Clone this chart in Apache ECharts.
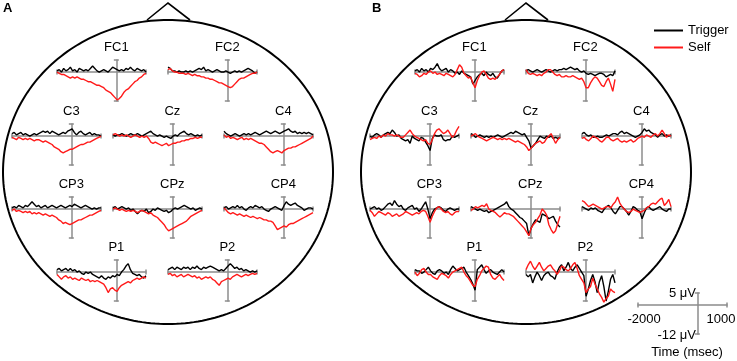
<!DOCTYPE html>
<html><head><meta charset="utf-8">
<script src="https://cdn.jsdelivr.net/npm/echarts@6/dist/echarts.min.js"></script>
<style>html,body{margin:0;padding:0;background:#fff}#c{width:737px;height:361px}</style>
</head><body><div id="c"></div>
<script>
// ---------- data ----------
const TIMES = [-2000,-1925,-1850,-1775,-1700,-1625,-1550,-1475,-1400,-1325,-1250,-1175,-1100,-1025,-950,-875,-800,-725,-650,-575,-500,-425,-350,-275,-200,-125,-50,25,100,175,250,325,400,475,550,625,700,775,850,925,1000];
const ELECTRODES = ['FC1','FC2','C3','Cz','C4','CP3','CPz','CP4','P1','P2'];
const SERIES_NAMES = ['Trigger','Self'];
const SCALE_TIME = [-2000, 1000];
const SCALE_VOLT = [5, -12];

// Panel A
const trigA_FC1 = [0.5,1,0,1.5,0.5,1,2,0.5,1,0, 1.5,1,0.5,1,0.5,1.5,2.5,1.5,0.5,0, 0.5,1,0.5,0,1,2,1.5,1,0.5,1, 0.5,1.5,1,2,1,0.5,1.5,1,0.5,1, 0];
const selfA_FC1 = [0,-0.5,-1,-1,-1.5,-2,-2.5,-2,-2.5,-2, -2.5,-3,-3,-3.5,-4,-4,-4.5,-5,-5.5,-5.5, -6,-6.5,-7.5,-8,-8.5,-9.5,-10.5,-11.5,-11,-10, -8.5,-7.5,-7,-6,-5,-4,-3.5,-2.5,-2,-1, -0.5];
const trigA_FC2 = [2,1.5,0.5,0.5,0,0.5,0,0,0.5,0, 0.5,0,0.5,1,1.5,1,2,0.5,1,0.5, 0,0.5,1,0.5,0,0,0.5,0,-0.5,0, 0.5,0,0.5,0,0.5,1,1.5,1,0.5,-0.5, 0];
const selfA_FC2 = [1,1.5,0.5,0,0,-0.5,-0.5,-0.5,-1,-0.5, -1,-1.5,-1,-1.5,-1.5,-2,-2,-2.5,-2.5,-3, -3,-3.5,-4,-4.5,-4.5,-5,-5.5,-6,-6.5,-6, -5,-4,-3,-2.5,-2.5,-2,-1.5,-1,-0.5,-0.5, 0];
const trigA_C3 = [1,1.5,0.5,1,1.5,0.5,1,0.5,0,0.5, 1,0.5,1,1.5,2,1.5,2,1,2,1.5, 1,0.5,1,1.5,1,2,2.5,3,1.5,0.5, 1.5,2,1,0.5,1,1.5,0.5,1,0.5,0.5, 0];
const selfA_C3 = [-0.5,-1,-1.5,-0.5,-1,-1.5,-1,-1.5,-1,-1.5, -2,-1.5,-1.5,-2,-2.5,-2,-2.5,-3,-3.5,-4.5, -5,-5.5,-6.5,-7,-6.5,-6,-5.5,-5.5,-5,-4.5, -4,-3.5,-3.5,-3,-2.5,-2.5,-2,-1.5,-1,-0.5, 0];
const trigA_Cz = [0.5,0,0.5,0.5,1,0.5,0,0.5,1,0.5, 0.5,1,0.5,0,0.5,1,1.5,2,1,0.5, 0,0.5,0,-0.5,0,-0.5,-1,0,0.5,0, 1,1.5,2,1,0.5,1,0.5,0,0.5,0, 0.5];
const selfA_Cz = [0.5,1,0.5,0,0.5,0,0.5,0,-0.5,0, 0.5,0,-0.5,0,-0.5,0,-1,-2.5,-3,-2.5, -3,-3.5,-4,-3.5,-3,-4,-3.5,-3,-3,-2.5, -2.5,-2,-2,-1.5,-1.5,-1,-1,-0.5,-1,-0.5, -0.5];
const trigA_C4 = [2,1,0.5,0,0.5,1,0.5,0,0.5,1, 0.5,1,0.5,1,1.5,1,0.5,1,1.5,2, 1.5,1,1.5,2,1.5,1,1.5,2,2.5,3, 2,1.5,2,1,1.5,1,1.5,1,1.5,1, 0.5];
const selfA_C4 = [0.5,-0.5,0,-1,-0.5,-1,-1.5,-1,-0.5,-1.5, -1,-1.5,-1,-1.5,-2,-2.5,-3,-3,-3.5,-4.5, -5.5,-6.5,-7,-6.5,-6,-6.5,-7,-6,-5.5,-5, -5,-4.5,-4.5,-4,-3.5,-3,-2.5,-2,-1.5,-1, 0];
const trigA_CP3 = [0.5,1,0.5,1.5,1,0.5,1.5,1,2,3, 2,1,1.5,0.5,1,1.5,0.5,1,1.5,1, 0.5,1,1.5,1,0.5,1,1.5,1,2,1.5, 1,0.5,1,1.5,1,0.5,0,0.5,0,0.5, 0.5];
const selfA_CP3 = [-0.5,0,-1,-0.5,-1,-1.5,-1,-1.5,-1,-2, -1.5,-2,-1.5,-2,-2.5,-2,-2.5,-3,-2.5,-3, -3.5,-4.5,-5,-6,-5.5,-6,-6.5,-6,-5.5,-5, -4.5,-4.5,-4,-3.5,-3,-2.5,-2.5,-2,-1.5,-1, -0.5];
const trigA_CPz = [0.5,1,0,0.5,1,0.5,0,0.5,-0.5,0, -1,-2,-1,-0.5,-1,0,-1.5,-1,0,-0.5, 0.5,0,-0.5,-1,-0.5,-1.5,-1,0,0.5,0, 0.5,1,1.5,1,0.5,0,0.5,-0.5,0,0.5, 0];
const selfA_CPz = [0,0.5,0,-0.5,0,-0.5,-1,-0.5,-1,-0.5, -1,-1.5,-1,-0.5,-1,-1.5,-2,-1.5,-2.5,-3, -3.5,-4.5,-5.5,-6.5,-8,-9,-8.5,-8,-7.5,-7, -6.5,-6,-5.5,-5,-4,-3,-2.5,-2,-1.5,-1, -0.5];
const trigA_CP4 = [0.5,1,0,0.5,1,0.5,1.5,0.5,1,0, -0.5,0.5,1,0.5,1.5,1,0.5,1,0,-0.5, -1,0,0.5,1,0.5,0,-0.5,1.5,3,2, 1.5,2,2.5,1.5,1,0.5,-0.5,0,0.5,0.5, 0];
const selfA_CP4 = [0.5,-0.5,-1.5,-2,-1.5,-2,-2.5,-2,-2.5,-3, -2.5,-3,-3.5,-3,-3.5,-4,-3.5,-4,-4.5,-4.5, -5,-5,-5.5,-7,-8.5,-8,-7.5,-7,-7.5,-6.5, -6,-6,-5.5,-5,-4.5,-4,-3.5,-3,-2.5,-2, -1.5];
const trigA_P1 = [1,1.5,0.5,1,1.5,0.5,1.5,0.5,1,0, 0.5,-0.5,-1,0,-0.5,0,-1,-1.5,-2,-2.5, -1.5,-2.5,-3,-2,-2.5,-1.5,-2,-1,-1.5,0, 1,2.5,3.5,1,-0.5,-1,-1.5,-1,-2,-2.5, -1.5];
const selfA_P1 = [-1,-2,-3,-2,-1.5,-2.5,-2,-3,-2.5,-3, -3.5,-2.5,-3,-3.5,-3,-4,-3.5,-4,-3.5,-4, -4.5,-5,-6.5,-8.5,-7,-6.5,-7.5,-8,-6.5,-5.5, -5,-4.5,-4,-4.5,-3.5,-3,-2.5,-3,-2.5,-2, -2.5];
const trigA_P2 = [1,1.5,2,1,2,1.5,1,2,1.5,2, 1,2,1.5,2.5,1.5,1,2,1.5,2,2.5, 2,1.5,1,0.5,1,0.5,1.5,2.5,3.5,2.5, 1.5,2,1,1.5,0.5,1,0.5,0,0.5,0, 0.5];
const selfA_P2 = [-1,-0.5,-1.5,-1,-2,-1.5,-1,-2,-1.5,-1, -1.5,-2,-1.5,-2.5,-2,-3,-2.5,-2,-2.5,-2, -3,-3.5,-4.5,-5.5,-4,-3.5,-3,-2.5,-3,-2, -1.5,-1,-1.5,-2,-1.5,-1,-1.5,-1,-0.5,-1, -0.5];

// Panel B
const trigB_FC1 = [0.5,1,0,1.5,0.5,1,0,1.5,1,2, 3.5,1.5,0.5,1,1.5,0,1,0.5,-0.5,0, -1,0.5,-0.5,-1,-1.5,-2,-5,-3.5,-2,-1, -0.5,-1.5,0,-1,-1.5,-0.5,-2,-2.5,-1,0.5, 1];
const selfB_FC1 = [-0.5,-1,-2,-1.5,-0.5,-1,0,0.5,-0.5,0, -1,-0.5,-1,-1.5,-0.5,-1,-1.5,-2,-1,1, 3,2,-0.5,-1.5,-2.5,-2,-4.5,-6.5,-3.5,-1.5, 0,0.5,-1,-2.5,-3,-2.5,-3,-2,-1,0.5, 1];
const trigB_FC2 = [0.5,1,0.5,0,0.5,1,0.5,0,0.5,1, 0.5,0,0.5,1,0.5,1,1,1.5,1,1.5, 2,1.5,1,1.5,0.5,0,0.5,-0.5,-1,-0.5, -1,-1.5,-1,-0.5,-0.5,-1,-2,-1.5,-1,-1.5, 0.5];
const selfB_FC2 = [1,-0.5,-1,-0.5,-1,-1.5,-1,-1.5,-0.5,0, 1,1,0,-1,-1.5,-1,-2,-2,-1.5,-2, -2,-1.5,-2,-2.5,-3,-2.5,-4,-6.5,-6.5,-4.5, -3,-2,-2.5,-4,-5.5,-6,-4,-2.5,-5,-8, -3];
const trigB_C3 = [0,-0.5,0.5,1,0.5,-0.5,0.5,1,1.5,1, 2.5,1.5,0,0.5,-1,-1.5,-2,-1.5,-3,0, -1,-1.5,-2,-0.5,-1,-2.5,-4,-6,-1,0.5, 0,0,0.5,-1.5,-2,-1.5,-1.5,0,-0.5,0, 0.5];
const selfB_C3 = [-1.5,-1,-0.5,-1,0,-0.5,0.5,0,1,0.5, 0.5,0,0.5,0,-0.5,-0.5,0.5,1.5,2.5,1, 0,-0.5,-1,-1.5,-2,-1.5,-3,-3.5,-1.5,1, 2.5,3,2,1,1.5,2.5,1,-0.5,0.5,2.5, 4];
const trigB_Cz = [1,0.5,-0.5,0,0.5,0,-0.5,0,-0.5,0, -0.5,0,0.5,0,-0.5,0,0.5,1,1.5,1, 2,1.5,1,0.5,1,-0.5,-2,-5,-4,-3, -1.5,0,-0.5,-1,0,-0.5,0,-1,-0.5,-1, -0.5];
const selfB_Cz = [0,0.5,1,0,-0.5,-1,-1.5,-2,-1.5,-1, -0.5,-1,-1.5,-1,-1.5,-1,-1.5,-1,-1.5,-2, -2.5,-2,-2.5,-3,-3.5,-4.5,-6,-5,-4,-3, -2.5,-2,-3,-2.5,-1,0,1,-1,-3,-1.5, -0.5];
const trigB_C4 = [1,1.5,0.5,0,0.5,-0.5,-0.5,0,-0.5,-0.5, 0,0.5,0,0.5,1,1,0.5,1.5,2,1, 1.5,1,0.5,0,-0.5,0,0.5,1.5,3,2, 2.5,1.5,1,0.5,-0.5,0.5,1,0,0.5,0, 0.5];
const selfB_C4 = [-1,-0.5,-1.5,-2,-1,0,-0.5,-1,-2,-2.5, -1.5,-0.5,-0.5,-1.5,-2,-1.5,-1,-2,-2.5,-2, -2.5,-2,-1.5,-2.5,-2,-1,-0.5,0,-0.5,0.5, 0,-0.5,0.5,1,0,1,2.5,1,-0.5,0.5, 0];
const trigB_CP3 = [0,0.5,1,0,0.5,-0.5,0,1,2,2.5, 1.5,3.5,2,1,1.5,0,-0.5,0.5,1,1.5, 0,0.5,-1,0,1.5,3,0,-4,-1.5,0, 0.5,1,0.5,-0.5,-1,0,0.5,0,-0.5,0, 0];
const selfB_CP3 = [-0.5,-1.5,-3,-2,-1,-1.5,-2,-2.5,-1.5,-2, -3,-2.5,-2,-3,-2.5,-2,-1,-1.5,-2,-2.5, -2,-1.5,-2,-1,-0.5,-1,-3,-5.5,-3,-1, 0.5,1,0,-1,-1.5,-1,-2,-2.5,-1.5,-1, -1];
const trigB_CPz = [1,0.5,0,-0.5,0,-0.5,-1,-0.5,-1.5,-1, -0.5,0,0.5,1,1.5,2,3,1,0,-0.5, -1.5,-2.5,-3.5,-4,-5,-6,-11,-8,-6,-4.5, -5,-5.5,-2,-2.5,-3,-4,-3.5,-3,-5,-6.5, -7.5];
const selfB_CPz = [-0.5,0,1,0.5,1,1.5,1,2.2,0,-0.5, -1,-1.5,-2.5,-3.3,-2.5,-1.5,-2,-2,-2.5,-3, -4,-5,-6,-7,-8,-9.5,-11,-8,-6.5,-5.5, -4,-2.5,0,-1,-2.5,-6.5,-8.5,-10,-9,-6, -3];
const trigB_CP4 = [1,0.5,0,-0.5,0.5,0,0.5,-0.5,-1,-1.5, 0,1,1.5,0.5,-1,-2,-0.5,1,1,0, -1,-2.5,-1,1,0.5,-0.5,-1,-4,-1.5,0.5, 1,0,-0.5,0,0.5,1,0,-0.5,-1,0, 0];
const selfB_CP4 = [3.5,3,2,1,1.5,2,1.5,1,0.5,0, 0.5,1,1,0.5,2,3,5,2.5,1,0, -1,-1.5,-1,0,-0.5,-1,-1.5,-1,-0.5,0.5, 1,2,2.5,2,3,4,4.5,1.5,2.5,4, 1];
const trigB_P1 = [1,0.5,0.5,-0.5,0,1,2,0.5,-0.5,-1, 0.5,1,0.5,-0.5,0,-1,1,2.5,1.5,0.5, 1,1.5,2,0,-1.5,-3,-5,-7.5,1,2, 3,1,-0.5,0.5,1,0,-0.5,-1,0,1, 0];
const selfB_P1 = [0,-1.5,-0.5,1,1.5,0,-1,-1,-2,-2.5, -3,-1.5,-0.5,-1,-1.5,-2.5,-1,0,0.5,1, 1.5,2,0,-1.5,-2.5,-4,-5.5,-6,-3,-1.5, 0.5,1.5,2.5,2,-1,-2.5,-3,-2,-1,-2.5, -3.5];
const trigB_P2 = [-1,-2,-1,-4.5,-2,0,-1.5,-3.5,-1.5,-0.5, 0,-1.5,-2,-3,0,2,3,0.5,2,4, 1.5,0.5,2,3,1.5,0,-1.5,-10,-7,-3.5, -1,-4,-8.5,-4,-1.5,-6,-12,-8,-3,-1, -4.5];
const selfB_P2 = [1,3,4.5,2.5,1,2.5,4,2,0.5,1.5, 2.5,3,1.5,0.5,-1,0.5,2.5,2,1,0.5, 1.5,3,4,1.5,-1.5,-3,-4.5,-8.5,-7,-6, -2.5,-5,-7,-9,-10.5,-12.5,-11,-10,-7,-8, -8.5];

const DATA = {
  A: {FC1:[trigA_FC1,selfA_FC1],FC2:[trigA_FC2,selfA_FC2],C3:[trigA_C3,selfA_C3],Cz:[trigA_Cz,selfA_Cz],C4:[trigA_C4,selfA_C4],
      CP3:[trigA_CP3,selfA_CP3],CPz:[trigA_CPz,selfA_CPz],CP4:[trigA_CP4,selfA_CP4],P1:[trigA_P1,selfA_P1],P2:[trigA_P2,selfA_P2]},
  B: {FC1:[trigB_FC1,selfB_FC1],FC2:[trigB_FC2,selfB_FC2],C3:[trigB_C3,selfB_C3],Cz:[trigB_Cz,selfB_Cz],C4:[trigB_C4,selfB_C4],
      CP3:[trigB_CP3,selfB_CP3],CPz:[trigB_CPz,selfB_CPz],CP4:[trigB_CP4,selfB_CP4],P1:[trigB_P1,selfB_P1],P2:[trigB_P2,selfB_P2]}
};

// ---------- layout & style ----------
const SLOT = {FC1:[57,60],FC2:[168,60],C3:[12,124],Cz:[113,124],C4:[224,124],CP3:[12,197],CPz:[113,197],CP4:[224,197],P1:[57,260],P2:[168,260]};
const HEAD_DX = {A:0, B:358};
const PW = 89, PH = 41;
const GRAY = '#8c8c8c';
const COLORS = ['#000000', '#ff1a1a'];
const FONT = '"Liberation Sans", Arial, sans-serif';

const grids = [], xAxes = [], yAxes = [], series = [], graphics = [];

function addAxes(left, top){
  const idx = grids.length;
  grids.push({left:left, top:top, width:PW, height:PH, containLabel:false});
  const axisLine = {show:true, onZero:true, symbol:['rect','rect'], symbolSize:[5,1.5], lineStyle:{color:GRAY, width:1.5}};
  xAxes.push({gridIndex:idx, type:'value', min:SCALE_TIME[0], max:SCALE_TIME[1], axisLine:axisLine,
    axisTick:{show:false}, axisLabel:{show:false}, splitLine:{show:false}});
  yAxes.push({gridIndex:idx, type:'value', min:SCALE_VOLT[1], max:SCALE_VOLT[0], axisLine:axisLine,
    axisTick:{show:false}, axisLabel:{show:false}, splitLine:{show:false}});
  return idx;
}

['A','B'].forEach(function(head){
  ELECTRODES.forEach(function(el){
    const left = SLOT[el][0] + HEAD_DX[head], top = SLOT[el][1];
    const idx = addAxes(left, top);
    DATA[head][el].forEach(function(vals, s){
      series.push({
        type:'line', name:SERIES_NAMES[s], xAxisIndex:idx, yAxisIndex:idx,
        data: TIMES.map(function(t,i){return [t, vals[i]];}),
        showSymbol:false, symbol:'none', clip:false, silent:true, z:2+s,
        lineStyle:{color:COLORS[s], width:1.4}, itemStyle:{color:COLORS[s]}
      });
    });
    // electrode label centred over t=0
    const x0 = left + PW * (0 - SCALE_TIME[0]) / (SCALE_TIME[1] - SCALE_TIME[0]);
    graphics.push({type:'text', x:x0, y:top-13, style:{text:el, fill:'#000', fontSize:13, fontFamily:FONT, align:'center', verticalAlign:'middle'}});
  });
});

// scale bar
addAxes(638, 293);
graphics.push({type:'text', x:696, y:293, style:{text:SCALE_VOLT[0]+' μV', fill:'#000', fontSize:13, fontFamily:FONT, align:'right', verticalAlign:'middle'}});
graphics.push({type:'text', x:696, y:335, style:{text:SCALE_VOLT[1]+' μV', fill:'#000', fontSize:13, fontFamily:FONT, align:'right', verticalAlign:'middle'}});
graphics.push({type:'text', x:644, y:319, style:{text:String(SCALE_TIME[0]), fill:'#000', fontSize:13, fontFamily:FONT, align:'center', verticalAlign:'middle'}});
graphics.push({type:'text', x:721, y:319, style:{text:String(SCALE_TIME[1]), fill:'#000', fontSize:13, fontFamily:FONT, align:'center', verticalAlign:'middle'}});
graphics.push({type:'text', x:687, y:352, style:{text:'Time (msec)', fill:'#000', fontSize:13, fontFamily:FONT, align:'center', verticalAlign:'middle'}});

// heads (decoration)
['A','B'].forEach(function(head){
  const cx = 168 + HEAD_DX[head], cy = 172, rx = 165, ry = 152;
  const pts = [];
  for (let j = 0; j <= 240; j++) { const a = 2*Math.PI*j/240; pts.push([cx + rx*Math.cos(a), cy + ry*Math.sin(a)]); }
  graphics.push({type:'polyline', z:-1, shape:{points:pts}, style:{fill:null, stroke:'#000', lineWidth:2}});
  graphics.push({type:'polyline', z:-1, shape:{points:[[cx-21,20],[cx,3],[cx+22,20]]}, style:{fill:null, stroke:'#000', lineWidth:1.6}});
  graphics.push({type:'text', x:(head==='A'?3:372), y:8, style:{text:head, fill:'#000', fontSize:13, fontWeight:'bold', fontFamily:FONT, align:'left', verticalAlign:'middle'}});
});

const chart = echarts.init(document.getElementById('c'), null, {renderer:'canvas'});
chart.setOption({
  animation:false,
  backgroundColor:'#ffffff',
  legend:{data:SERIES_NAMES, orient:'vertical', left:654, top:22, padding:0, itemWidth:29, itemHeight:2, itemGap:0,
    icon:'rect', selectedMode:false, textStyle:{fontSize:13, fontFamily:FONT, color:'#000', lineHeight:17}},
  grid:grids, xAxis:xAxes, yAxis:yAxes, series:series, graphic:graphics
});
</script>
</body></html>
